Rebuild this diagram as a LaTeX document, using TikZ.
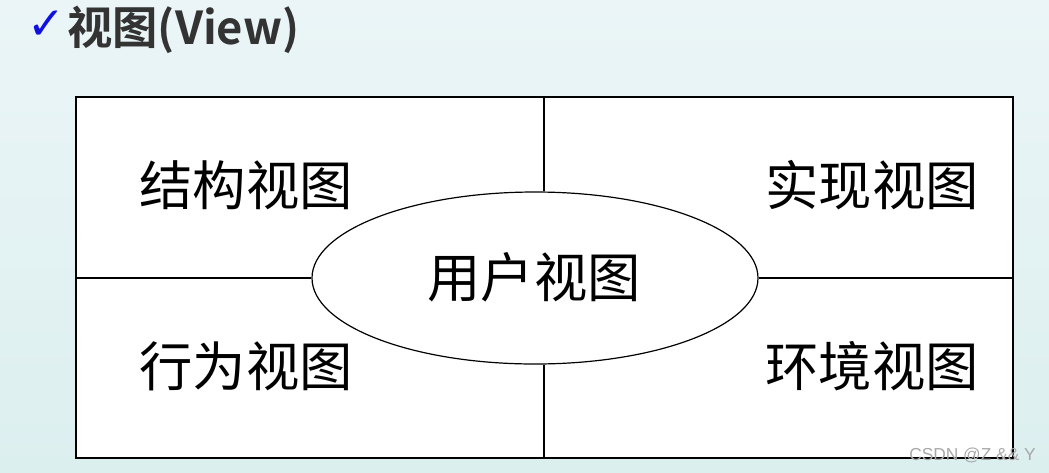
\documentclass[tikz,border=0pt]{standalone}
\usepackage{fontspec}
\setmainfont{Liberation Sans}
\newfontfamily\cjk{Noto Sans CJK SC}
\newfontfamily\cjkb{Noto Sans CJK SC Bold}
\newfontfamily\dejavu{DejaVu Sans}
\usetikzlibrary{shapes.geometric}
\definecolor{bgtop}{HTML}{EBF5F7}
\definecolor{bgbot}{HTML}{DCEFEF}
\definecolor{titlegray}{HTML}{333333}
\definecolor{checkblue}{HTML}{1010E0}
\definecolor{wmgray}{HTML}{A8A8A8}
\tikzset{
  viewlabel/.style={font=\cjk\fontsize{40}{42}\selectfont, inner sep=0pt},
  divline/.style={draw=black, line width=0.9pt},
}
\begin{document}
\begin{tikzpicture}[x=0.75pt,y=-0.75pt]
\useasboundingbox (0,0) rectangle (1049,472);
\shade[top color=bgtop, bottom color=bgbot] (0,0) rectangle (1049,472);
% title
\node[anchor=west, inner sep=0pt, text=checkblue, font=\dejavu\fontsize{34}{36}\selectfont] (chk) at (27,25) {✓};
\node[anchor=west, inner sep=0pt, text=titlegray, font=\cjkb\fontsize{34}{36}\selectfont] (title) at (67,30) {视图(View)};
% frame
\draw[divline, fill=white] (76,97) rectangle (1013,458);
\coordinate (tm) at (544,97);
\coordinate (bm) at (544,458);
\coordinate (lm) at (76,278);
\coordinate (rm) at (1013,278);
\node[ellipse, draw=black, line width=0.9pt, fill=white, minimum width=446*0.75pt, minimum height=172*0.75pt, inner sep=0pt] (user) at (535,278) {};
\draw[divline] (tm) -- (user.north -| tm);
\draw[divline] (bm) -- (user.south -| bm);
\draw[divline] (lm) -- (user.west);
\draw[divline] (rm) -- (user.east);
\node[viewlabel] (u) at (534,277) {用户视图};
\node[viewlabel] (s) at (246,185) {结构视图};
\node[viewlabel] (i) at (872,185) {实现视图};
\node[viewlabel] (b) at (246,366) {行为视图};
\node[viewlabel] (e) at (872,366) {环境视图};
% watermark
\node[anchor=east, inner sep=0pt, text=wmgray, font=\fontsize{13}{14}\selectfont] (wm) at (1036,455) {CSDN @Z \&\& Y};
\end{tikzpicture}
\end{document}
